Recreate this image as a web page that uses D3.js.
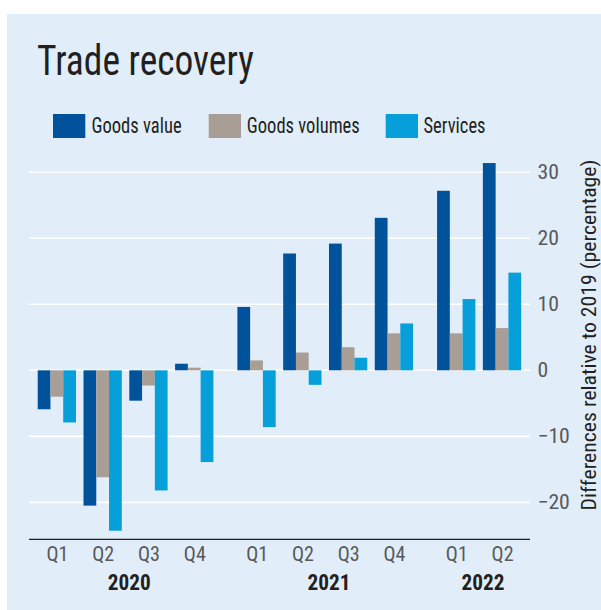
<!DOCTYPE html>
<html>
<head>
<meta charset="utf-8">
<script src="https://cdn.jsdelivr.net/npm/d3@7"></script>
<style>
  html, body { margin: 0; padding: 0; background: #ffffff; }
  svg { display: block; }
  text { font-family: "Roboto Condensed", Roboto, "Noto Sans", sans-serif; }
</style>
</head>
<body>
<svg id="chart" width="601" height="610"></svg>
<script>
// ---- data ----
const years = ["2020", "2021", "2022"];
const quarters = ["Q1", "Q2", "Q3", "Q4", "Q1", "Q2", "Q3", "Q4", "Q1", "Q2"];
const quarterYear = ["2020", "2020", "2020", "2020", "2021", "2021", "2021", "2021", "2022", "2022"];
const seriesNames = ["Goods value", "Goods volumes", "Services"];
const goodsValue   = [-5.9, -20.5, -4.6, 1.0, 9.6, 17.7, 19.2, 23.1, 27.2, 31.4];
const goodsVolumes = [-4.0, -16.2, -2.3, 0.4, 1.5, 2.7, 3.5, 5.6, 5.6, 6.4];
const services     = [-7.9, -24.3, -18.2, -13.9, -8.6, -2.2, 1.9, 7.1, 10.8, 14.8];
const yTicks = [30, 20, 10, 0, -10, -20];
const title = "Trade recovery";
const yTitle = "Differences relative to 2019 (percentage)";

// ---- styles / layout ----
const colors = ["#00529b", "#a89e95", "#069fda"];
const bg = "#e1eef9";
const yearGap = 0.36;

const svg = d3.select("#chart");
svg.append("rect").attr("x", 7).attr("y", 14).attr("width", 601 - 7).attr("height", 610 - 14).attr("fill", bg);

// measure text natural width, to derive a horizontal condense factor per text role
const probe = svg.append("text").attr("visibility", "hidden");
function natural(str, size, weight) {
  probe.text(str).attr("font-size", size).attr("font-weight", weight || 400);
  return probe.node().getBBox().width;
}
const sxTitle  = 217 / natural("Trade recovery", 43);
const sxLegend = 113 / natural("Goods volumes", 22);
const sxTick   = 21.5 / natural("30", 20);
const sxQuarter = 22 / natural("Q1", 20);
const sxYear   = 43 / natural("2020", 22, 700);
const sxYTitle = 351 / natural(yTitle, 20.5);
probe.remove();

const plotLeft = 29, plotRight = 530, plotTop = 172.3, plotBottom = 539.3;

const slot = quarters.map((q, i) => i + years.indexOf(quarterYear[i]) * yearGap);
const x = d3.scaleLinear().domain([-0.608, 10.331]).range([plotLeft, plotRight]);
const step = x(1) - x(0);
const groupW = step * 0.836;
const inner = d3.scaleBand().domain(seriesNames).range([-groupW / 2, groupW / 2]).padding(0);
const y = d3.scaleLinear().domain([-25.6, 30]).range([plotBottom, plotTop]);

function ctext(sel, xx, yy, str, opts) {
  const g = sel.append("g").attr("transform", `translate(${xx},${yy}) scale(${opts.sx},1)`);
  const t = g.append("text").text(str)
    .attr("font-size", opts.size)
    .attr("fill", opts.fill || "#231f20")
    .attr("font-weight", opts.weight || 400)
    .attr("text-anchor", opts.anchor || "start");
  if (opts.baseline) t.attr("dominant-baseline", opts.baseline);
  return g;
}

// gridlines
svg.append("g").selectAll("line").data(yTicks).join("line")
  .attr("x1", plotLeft).attr("x2", plotRight)
  .attr("y1", d => y(d)).attr("y2", d => y(d))
  .attr("stroke", "#ffffff").attr("stroke-width", 1.6);

// y tick labels
const yAxisG = svg.append("g");
yTicks.forEach(t => {
  ctext(yAxisG, 537.5, y(t), t < 0 ? "\u2212" + Math.abs(t) : String(t),
    { size: 20, sx: sxTick, fill: "#58595b", baseline: "central" });
});

// bars
const seriesVals = [goodsValue, goodsVolumes, services];
const barData = [];
quarters.forEach((q, i) => {
  seriesNames.forEach((s, k) => barData.push({ i, s, k, v: seriesVals[k][i] }));
});
svg.append("g").selectAll("rect").data(barData).join("rect")
  .attr("x", d => x(slot[d.i]) + inner(d.s))
  .attr("width", inner.bandwidth())
  .attr("y", d => Math.min(y(0), y(d.v)))
  .attr("height", d => Math.abs(y(d.v) - y(0)))
  .attr("fill", d => colors[d.k]);

// bottom axis line
svg.append("line").attr("x1", plotLeft).attr("x2", plotRight)
  .attr("y1", plotBottom).attr("y2", plotBottom)
  .attr("stroke", "#231f20").attr("stroke-width", 1.2);

// quarter labels
const xl = svg.append("g");
quarters.forEach((q, i) => {
  ctext(xl, x(slot[i]) + 0.6, 560.5, q, { size: 20, sx: sxQuarter, fill: "#58595b", anchor: "middle" });
});
// year labels
years.forEach(yr => {
  const idx = quarterYear.map((d, i) => d === yr ? slot[i] : null).filter(d => d !== null);
  const cx = (x(d3.min(idx)) + x(d3.max(idx))) / 2 + 3.8;
  ctext(xl, cx, 589.5, yr, { size: 22, sx: sxYear, weight: 700, fill: "#231f20", anchor: "middle" });
});

// title
ctext(svg, 37, 74.5, title, { size: 43, sx: sxTitle, fill: "#231f20" });

// legend
const legendPos = [[53, 92], [208.7, 247.3], [385.7, 424]];
seriesNames.forEach((s, k) => {
  svg.append("rect").attr("x", legendPos[k][0]).attr("y", 114).attr("width", 32.3).attr("height", 24)
    .attr("fill", colors[k]);
  ctext(svg, legendPos[k][1] - 0.5, 133, s, { size: 22, sx: sxLegend, fill: "#231f20" });
});

// y title
const yt = svg.append("g").attr("transform", `translate(596,335) rotate(-90)`);
ctext(yt, 0, 0, yTitle, { size: 20.5, sx: sxYTitle, fill: "#231f20", anchor: "middle" });
</script>
</body>
</html>
